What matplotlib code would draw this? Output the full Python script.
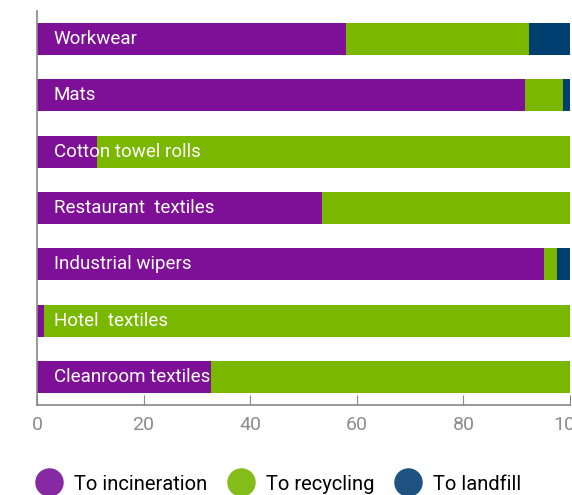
import numpy as np
import matplotlib.pyplot as plt
from matplotlib.lines import Line2D

plt.rcParams["font.family"] = ["Roboto", "DejaVu Sans"]

# shares in percent, top to bottom
categories = ["Workwear", "Mats", "Cotton towel rolls", "Restaurant  textiles",
              "Industrial wipers", "Hotel  textiles", "Cleanroom textiles"]
incineration = [57.9, 91.5, 11.3, 53.4, 95.1, 1.4, 32.6]
recycling = [34.4, 7.2, 88.7, 46.6, 2.5, 98.6, 67.4]
landfill = [7.7, 1.3, 0, 0, 2.4, 0, 0]
series_names = ["To incineration", "To recycling", "To landfill"]

bar_cols = ["#7e1098", "#7ab800", "#003f70"]
leg_cols = ["#8629a3", "#84bd1a", "#1e5281"]

fig = plt.figure(figsize=(5.72, 4.95), dpi=100)
ax = fig.add_axes([37/572, 90/495, 533/572, 394/495])

y = np.arange(len(categories))
inc = np.array(incineration)
rec = np.array(recycling)
lan = np.array(landfill)
h = 0.57
ax.barh(y, inc, height=h, color=bar_cols[0])
ax.barh(y, rec, left=inc, height=h, color=bar_cols[1])
ax.barh(y, lan, left=inc+rec, height=h, color=bar_cols[2])

for i, name in enumerate(categories):
    ax.text(3.1, i, name, color="white", fontsize=13.5, va="center", ha="left")

ax.set_ylim(len(categories)-0.5, -0.5)
ax.set_xlim(0, 100)
ax.set_yticks([])
ax.set_xticks([0, 20, 40, 60, 80, 100])
ax.tick_params(axis="x", direction="in", length=7, color="#888888",
               labelcolor="#8c8c8c", labelsize=14, pad=8)
for s in ["top", "right"]:
    ax.spines[s].set_visible(False)
for s in ["left", "bottom"]:
    ax.spines[s].set_color("#888888")
    ax.spines[s].set_linewidth(1.2)

handles = [Line2D([], [], marker="o", linestyle="", markersize=19.5,
                  markerfacecolor=c, markeredgecolor=c) for c in leg_cols]
fig.legend(handles, series_names, loc="center left", bbox_to_anchor=(37/572, 11/495),
           ncol=3, frameon=False, fontsize=14.5, handletextpad=0.65,
           columnspacing=1.05, handlelength=1.2, borderaxespad=0, borderpad=0)

fig.savefig("out.png", dpi=100)
